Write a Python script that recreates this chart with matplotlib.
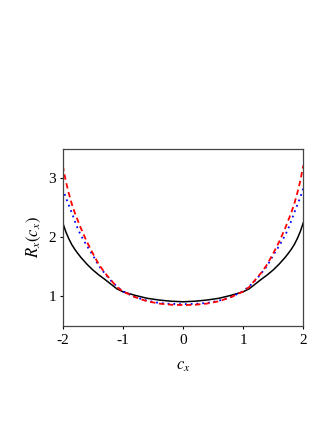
import matplotlib
matplotlib.use('Agg')
import matplotlib.pyplot as plt

plt.rcParams['font.family'] = 'Liberation Serif'
plt.rcParams['mathtext.fontset'] = 'stix'
plt.rcParams['axes.unicode_minus'] = False

# values
cx = [-2.0, -1.95, -1.9, -1.85, -1.8, -1.75, -1.7, -1.6, -1.5, -1.4, -1.3,
      -1.2, -1.1, -1.0, -0.8, -0.6, -0.4, -0.2, 0.0, 0.2, 0.4, 0.6, 0.8,
      1.0, 1.1, 1.2, 1.3, 1.4, 1.5, 1.6, 1.7, 1.75, 1.8, 1.85, 1.9, 1.95, 2.0]
r_solid = [2.25, 2.10, 1.98, 1.88, 1.80, 1.73, 1.665, 1.55, 1.45, 1.365, 1.29,
           1.21, 1.13, 1.08, 1.02, 0.97, 0.94, 0.92, 0.91, 0.92, 0.94, 0.97, 1.02,
           1.08, 1.13, 1.21, 1.29, 1.365, 1.45, 1.55, 1.665, 1.73, 1.80, 1.88, 1.98, 2.10, 2.25]
r_dotted = [2.83, 2.68, 2.55, 2.42, 2.28, 2.15, 2.04, 1.86, 1.70, 1.52, 1.39,
            1.27, 1.17, 1.09, 0.99, 0.93, 0.89, 0.875, 0.87, 0.875, 0.89, 0.93, 0.99,
            1.09, 1.17, 1.27, 1.39, 1.52, 1.70, 1.86, 2.04, 2.15, 2.28, 2.42, 2.55, 2.68, 2.83]
r_dashed = [3.22, 2.96, 2.75, 2.57, 2.42, 2.29, 2.16, 1.93, 1.73, 1.545, 1.40,
            1.28, 1.16, 1.085, 0.99, 0.92, 0.88, 0.86, 0.855, 0.86, 0.88, 0.92, 0.99,
            1.085, 1.16, 1.28, 1.40, 1.545, 1.73, 1.93, 2.16, 2.29, 2.42, 2.57, 2.75, 2.96, 3.22]

fig = plt.figure(figsize=(3.32, 4.30), dpi=100)
ax = fig.add_axes([0.189, 0.2419, 0.7245, 0.4116])

ax.plot(cx, r_solid, color='black', lw=1.1)
ax.plot(cx, r_dotted, color='blue', lw=1.3, linestyle=(0, (1, 2.2)))
ax.plot(cx, r_dashed, color='red', lw=1.3, linestyle=(0, (3, 2)))

ax.set_xlim(-2, 2)
ax.set_ylim(0.5, 3.5)
ax.set_xticks([-2, -1, 0, 1, 2])
ax.set_yticks([1, 2, 3])
ax.tick_params(direction='out', length=2.5, width=0.8, labelsize=11)
ax.tick_params(axis='x', pad=3.5)
ax.tick_params(axis='y', pad=2.5)
for s in ax.spines.values():
    s.set_color('#444444')
    s.set_linewidth(0.9)

ax.set_xlabel('$c_x$', fontsize=12, labelpad=8)
ax.set_ylabel('$R_x(c_x)$', fontsize=12, labelpad=4)

fig.savefig('out.png', dpi=100)
